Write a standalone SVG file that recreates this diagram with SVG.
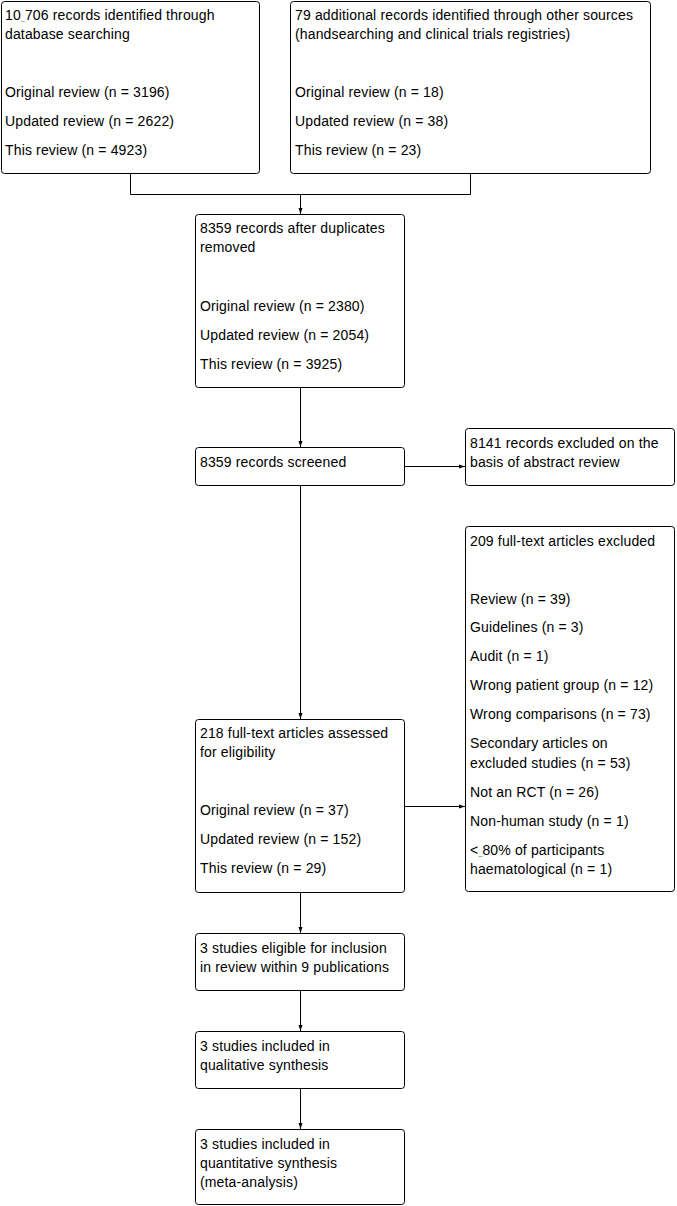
<svg xmlns="http://www.w3.org/2000/svg" width="677" height="1206" viewBox="0 0 677 1206">
<style>
.box{fill:#fff;stroke:#000;stroke-width:1}
.t{font-family:"Liberation Sans",Arial,sans-serif;font-size:14px;letter-spacing:0.15px;fill:#000}
.g{fill:#2a8a2a;font-size:7px}
.c{fill:none;stroke:#000;stroke-width:1}
</style>
<defs>
<marker id="ah" markerWidth="6" markerHeight="5" refX="6" refY="2.5" orient="auto" markerUnits="userSpaceOnUse">
<path d="M0,0.5 L6,2.5 L0,4.5 Z" fill="#000"/>
</marker>
</defs>
<rect width="677" height="1206" fill="#fff"/>
<g id="connectors">
<path class="c" d="M130.5,173.5 V194.5 H470.5 V173.5"/>
<path class="c" d="M300.5,194.5 V214" marker-end="url(#ah)"/>
<path class="c" d="M300.5,387.5 V447" marker-end="url(#ah)"/>
<path class="c" d="M404.5,466.5 H465" marker-end="url(#ah)"/>
<path class="c" d="M300.5,485.5 V719" marker-end="url(#ah)"/>
<path class="c" d="M404.5,806.5 H465" marker-end="url(#ah)"/>
<path class="c" d="M300.5,892.5 V933" marker-end="url(#ah)"/>
<path class="c" d="M300.5,990.5 V1031" marker-end="url(#ah)"/>
<path class="c" d="M300.5,1088.5 V1129" marker-end="url(#ah)"/>
</g>
<g id="n1">
<rect class="box" x="1.5" y="1.5" width="258" height="172" rx="3"/>
<text class="t" x="5" y="20">10<tspan class="g">_</tspan>706 records identified through</text>
<text class="t" x="5" y="39">database searching</text>
<text class="t" x="5" y="97">Original review (n = 3196)</text>
<text class="t" x="5" y="126">Updated review (n = 2622)</text>
<text class="t" x="5" y="155">This review (n = 4923)</text>
</g>
<g id="n2">
<rect class="box" x="290.5" y="1.5" width="360" height="172" rx="3"/>
<text class="t" x="295" y="20">79 additional records identified through other sources</text>
<text class="t" x="295" y="39">(handsearching and clinical trials registries)</text>
<text class="t" x="295" y="97">Original review (n = 18)</text>
<text class="t" x="295" y="126">Updated review (n = 38)</text>
<text class="t" x="295" y="155">This review (n = 23)</text>
</g>
<g id="n3">
<rect class="box" x="195.5" y="214.5" width="209" height="173" rx="3"/>
<text class="t" x="200" y="233">8359 records after duplicates</text>
<text class="t" x="200" y="252">removed</text>
<text class="t" x="200" y="310.5">Original review (n = 2380)</text>
<text class="t" x="200" y="339.5">Updated review (n = 2054)</text>
<text class="t" x="200" y="368.5">This review (n = 3925)</text>
</g>
<g id="n4">
<rect class="box" x="195.5" y="447.5" width="209" height="38" rx="3"/>
<text class="t" x="200" y="467">8359 records screened</text>
</g>
<g id="n5">
<rect class="box" x="465.5" y="428.5" width="209" height="57" rx="3"/>
<text class="t" x="470" y="448">8141 records excluded on the</text>
<text class="t" x="470" y="466.5">basis of abstract review</text>
</g>
<g id="n6">
<rect class="box" x="465.5" y="526.5" width="209" height="365" rx="3"/>
<text class="t" x="470" y="546">209 full-text articles excluded</text>
<text class="t" x="470" y="603.5">Review (n = 39)</text>
<text class="t" x="470" y="632">Guidelines (n = 3)</text>
<text class="t" x="470" y="661">Audit (n = 1)</text>
<text class="t" x="470" y="690">Wrong patient group (n = 12)</text>
<text class="t" x="470" y="719">Wrong comparisons (n = 73)</text>
<text class="t" x="470" y="748">Secondary articles on</text>
<text class="t" x="470" y="767.5">excluded studies (n = 53)</text>
<text class="t" x="470" y="797">Not an RCT (n = 26)</text>
<text class="t" x="470" y="826">Non-human study (n = 1)</text>
<text class="t" x="470" y="855">&lt;<tspan class="g">_</tspan>80% of participants</text>
<text class="t" x="470" y="874">haematological (n = 1)</text>
</g>
<g id="n7">
<rect class="box" x="195.5" y="719.5" width="209" height="173" rx="3"/>
<text class="t" x="200" y="738">218 full-text articles assessed</text>
<text class="t" x="200" y="757">for eligibility</text>
<text class="t" x="200" y="815">Original review (n = 37)</text>
<text class="t" x="200" y="844">Updated review (n = 152)</text>
<text class="t" x="200" y="873">This review (n = 29)</text>
</g>
<g id="n8">
<rect class="box" x="195.5" y="933.5" width="209" height="57" rx="3"/>
<text class="t" x="200" y="953">3 studies eligible for inclusion</text>
<text class="t" x="200" y="972">in review within 9 publications</text>
</g>
<g id="n9">
<rect class="box" x="195.5" y="1031.5" width="209" height="57" rx="3"/>
<text class="t" x="200" y="1051">3 studies included in</text>
<text class="t" x="200" y="1070">qualitative synthesis</text>
</g>
<g id="n10">
<rect class="box" x="195.5" y="1129.5" width="209" height="75" rx="3"/>
<text class="t" x="200" y="1149">3 studies included in</text>
<text class="t" x="200" y="1168">quantitative synthesis</text>
<text class="t" x="200" y="1187">(meta-analysis)</text>
</g>
</svg>
